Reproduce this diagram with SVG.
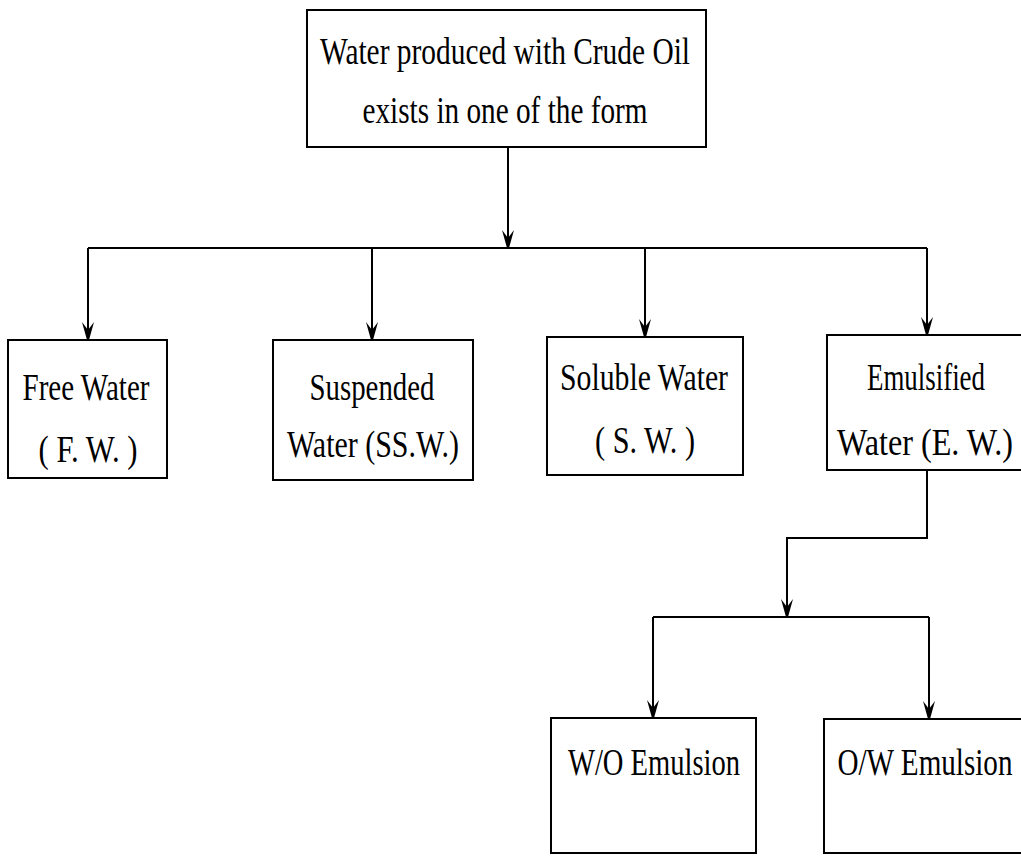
<svg xmlns="http://www.w3.org/2000/svg" width="1021" height="856" viewBox="0 0 1021 856">
<style>
.box{fill:#fff;stroke:#000;stroke-width:2}
.t{font-family:"Liberation Serif","Times New Roman",serif;font-size:38px;fill:#000;text-anchor:middle}
.c{fill:none;stroke:#000;stroke-width:2}
</style>
<defs>
<marker id="ah" viewBox="0 0 18 12" refX="18" refY="6" markerWidth="18" markerHeight="12" markerUnits="userSpaceOnUse" orient="auto">
<path d="M0,0 L18,5 L18,7 L0,12 L8,6 z" fill="#000"/>
</marker>
</defs>
<rect width="1021" height="856" fill="#fff"/>
<g id="connectors">
<line class="c" x1="508" y1="147" x2="508" y2="248" marker-end="url(#ah)"/>
<line class="c" x1="88" y1="248" x2="927" y2="248"/>
<line class="c" x1="88" y1="248" x2="88" y2="340" marker-end="url(#ah)"/>
<line class="c" x1="372" y1="248" x2="372" y2="340" marker-end="url(#ah)"/>
<line class="c" x1="645" y1="248" x2="645" y2="337" marker-end="url(#ah)"/>
<line class="c" x1="927" y1="248" x2="927" y2="335" marker-end="url(#ah)"/>
<polyline class="c" points="927,470 927,538 787,538 787,617" marker-end="url(#ah)"/>
<line class="c" x1="653" y1="617" x2="929" y2="617"/>
<line class="c" x1="653" y1="617" x2="653" y2="718" marker-end="url(#ah)"/>
<line class="c" x1="929" y1="617" x2="929" y2="719" marker-end="url(#ah)"/>
</g>
<g id="root">
<rect class="box" x="307" y="10" width="399" height="137"/>
<text class="t" x="505" y="64" textLength="370" lengthAdjust="spacingAndGlyphs" font-size="40">Water produced with Crude Oil</text>
<text class="t" x="505" y="123" textLength="285" lengthAdjust="spacingAndGlyphs" font-size="40">exists in one of the form</text>
</g>
<g id="free">
<rect class="box" x="8" y="340" width="159" height="138"/>
<text class="t" x="86" y="400" textLength="127" lengthAdjust="spacingAndGlyphs">Free Water</text>
<text class="t" x="88" y="462" textLength="99" lengthAdjust="spacingAndGlyphs">( F. W. )</text>
</g>
<g id="suspended">
<rect class="box" x="273" y="340" width="200" height="140"/>
<text class="t" x="372" y="400" textLength="125" lengthAdjust="spacingAndGlyphs">Suspended</text>
<text class="t" x="373" y="457" textLength="172" lengthAdjust="spacingAndGlyphs">Water (SS.W.)</text>
</g>
<g id="soluble">
<rect class="box" x="547" y="337" width="196" height="138"/>
<text class="t" x="644" y="390" textLength="168" lengthAdjust="spacingAndGlyphs">Soluble Water</text>
<text class="t" x="645" y="453" textLength="100" lengthAdjust="spacingAndGlyphs">( S. W. )</text>
</g>
<g id="emulsified">
<rect class="box" x="827" y="335" width="210" height="135"/>
<text class="t" x="926" y="390" textLength="118" lengthAdjust="spacingAndGlyphs">Emulsified</text>
<text class="t" x="925" y="455" textLength="176" lengthAdjust="spacingAndGlyphs">Water  (E. W.)</text>
</g>
<g id="wo">
<rect class="box" x="551" y="718" width="205" height="135"/>
<text class="t" x="654" y="775" textLength="172" lengthAdjust="spacingAndGlyphs">W/O Emulsion</text>
</g>
<g id="ow">
<rect class="box" x="824" y="719" width="210" height="134"/>
<text class="t" x="925" y="775" textLength="175" lengthAdjust="spacingAndGlyphs">O/W Emulsion</text>
</g>
</svg>
